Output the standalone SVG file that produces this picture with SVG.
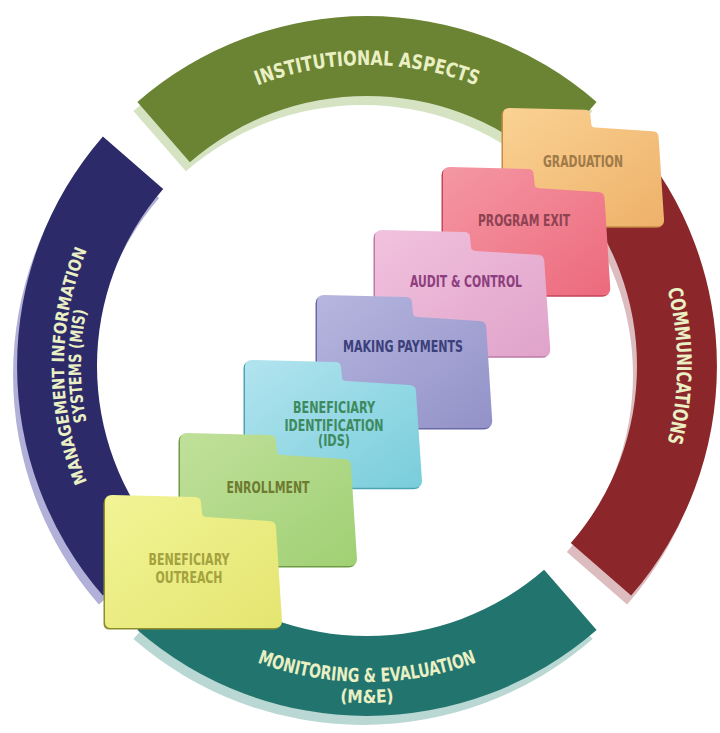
<svg xmlns="http://www.w3.org/2000/svg" xmlns:xlink="http://www.w3.org/1999/xlink" width="720" height="733" viewBox="0 0 720 733">
<style>
.bt{font-family:"DejaVu Sans Condensed","DejaVu Sans",sans-serif;font-weight:bold;fill:#eaf0c4;text-anchor:middle}
.ft{font-family:"DejaVu Sans Condensed","DejaVu Sans",sans-serif;font-weight:bold;font-size:16px;text-anchor:middle}
</style>
<defs>
<path id="pTop" d="M106.3,215.5 A301,301 0 0 1 627.7,215.5"/>
<path id="pRight" d="M522,97.5 A310,310 0 0 1 522,634.5"/>
<path id="pBot1" d="M93.3,524 A316,316 0 0 0 640.7,524"/>
<path id="pBot2" d="M75.2,534.5 A337,337 0 0 0 658.8,534.5"/>
<path id="pLeft1" d="M215.5,628.4 A303,303 0 0 1 215.5,103.6"/>
<path id="pLeft2" d="M224,613.7 A286,286 0 0 1 224,118.3"/>
<path id="folder" d="M0,7 Q0,0 7,0 L90,2 Q96,2 96,8 L97,18 Q97,22 102,22 L164,26 Q171,26 171,33 L177,126 Q177,133 170,133 L6,133 Q0,133 0,127 Z"/>
<linearGradient id="gGrad" x1="0" y1="0" x2="1" y2="1"><stop offset="0" stop-color="#fad293"/><stop offset="1" stop-color="#eeb16a"/></linearGradient>
<linearGradient id="gExit" x1="0" y1="0" x2="1" y2="1"><stop offset="0" stop-color="#f597a4"/><stop offset="1" stop-color="#ec6a7c"/></linearGradient>
<linearGradient id="gAudit" x1="0" y1="0" x2="1" y2="1"><stop offset="0" stop-color="#f1c2de"/><stop offset="1" stop-color="#e0a3ca"/></linearGradient>
<linearGradient id="gPay" x1="0" y1="0" x2="1" y2="1"><stop offset="0" stop-color="#b6b6df"/><stop offset="1" stop-color="#9392c8"/></linearGradient>
<linearGradient id="gIds" x1="0" y1="0" x2="1" y2="1"><stop offset="0" stop-color="#b2e4ef"/><stop offset="1" stop-color="#79cddb"/></linearGradient>
<linearGradient id="gEnr" x1="0" y1="0" x2="1" y2="1"><stop offset="0" stop-color="#c0e09a"/><stop offset="1" stop-color="#a0d074"/></linearGradient>
<linearGradient id="gOut" x1="0" y1="0" x2="1" y2="1"><stop offset="0" stop-color="#f2f496"/><stop offset="1" stop-color="#e4e570"/></linearGradient>
</defs>
<rect width="720" height="733" fill="#ffffff"/>

<g id="band-institutional">
<path d="M137.4,101.9 A350,350 0 0 1 596.6,101.9 L544.1,162.2 A270,270 0 0 0 189.9,162.2 Z" fill="#d5e3c2" transform="translate(-4,9)"/>
<path d="M137.4,101.9 A350,350 0 0 1 596.6,101.9 L544.1,162.2 A270,270 0 0 0 189.9,162.2 Z" fill="#6a8434"/>
<text class="bt" font-size="20"><textPath href="#pTop" xlink:href="#pTop" startOffset="50%" textLength="224" lengthAdjust="spacingAndGlyphs">INSTITUTIONAL ASPECTS</textPath></text>
</g>

<g id="band-communications">
<path d="M631.1,136.4 A350,350 0 0 1 631.1,595.6 L570.8,543.1 A270,270 0 0 0 570.8,188.9 Z" fill="#dcbcbf" transform="translate(-4,9)"/>
<path d="M631.1,136.4 A350,350 0 0 1 631.1,595.6 L570.8,543.1 A270,270 0 0 0 570.8,188.9 Z" fill="#8b262a"/>
<text class="bt" font-size="20"><textPath href="#pRight" xlink:href="#pRight" startOffset="50%" textLength="155" lengthAdjust="spacingAndGlyphs">COMMUNICATIONS</textPath></text>
</g>

<g id="band-monitoring">
<path d="M596.6,630.1 A350,350 0 0 1 137.4,630.1 L189.9,569.8 A270,270 0 0 0 544.1,569.8 Z" fill="#b9d7d3" transform="translate(-4,9)"/>
<path d="M596.6,630.1 A350,350 0 0 1 137.4,630.1 L189.9,569.8 A270,270 0 0 0 544.1,569.8 Z" fill="#22756e"/>
<text class="bt" font-size="19"><textPath href="#pBot1" xlink:href="#pBot1" startOffset="50%" textLength="224" lengthAdjust="spacingAndGlyphs">MONITORING &amp; EVALUATION</textPath></text>
<text class="bt" font-size="18"><textPath href="#pBot2" xlink:href="#pBot2" startOffset="50%" textLength="54" lengthAdjust="spacingAndGlyphs">(M&amp;E)</textPath></text>
</g>

<g id="band-mis">
<path d="M102.9,595.6 A350,350 0 0 1 102.9,136.4 L163.2,188.9 A270,270 0 0 0 163.2,543.1 Z" fill="#b1b0d8" transform="translate(-4,9)"/>
<path d="M102.9,595.6 A350,350 0 0 1 102.9,136.4 L163.2,188.9 A270,270 0 0 0 163.2,543.1 Z" fill="#2d2a69"/>
<text class="bt" font-size="17"><textPath href="#pLeft1" xlink:href="#pLeft1" startOffset="50%" textLength="238" lengthAdjust="spacingAndGlyphs">MANAGEMENT INFORMATION</textPath></text>
<text class="bt" font-size="17"><textPath href="#pLeft2" xlink:href="#pLeft2" startOffset="50%" textLength="112" lengthAdjust="spacingAndGlyphs">SYSTEMS (MIS)</textPath></text>
</g>

<g id="folder-graduation">
<use href="#folder" xlink:href="#folder" transform="translate(501.5,109.5) scale(0.91,0.89)" fill="#c68a44"/>
<use href="#folder" xlink:href="#folder" transform="translate(503,108) scale(0.91,0.89)" fill="url(#gGrad)"/>
<text class="ft" x="583" y="167" fill="#a07a48" textLength="80" lengthAdjust="spacingAndGlyphs">GRADUATION</text>
</g>

<g id="folder-program-exit">
<use href="#folder" xlink:href="#folder" transform="translate(441.5,168.5) scale(0.945,0.965)" fill="#c64458"/>
<use href="#folder" xlink:href="#folder" transform="translate(443,167) scale(0.945,0.965)" fill="url(#gExit)"/>
<text class="ft" x="524" y="226" fill="#8e4252" textLength="92" lengthAdjust="spacingAndGlyphs">PROGRAM EXIT</text>
</g>

<g id="folder-audit">
<use href="#folder" xlink:href="#folder" transform="translate(373.5,231.5) scale(0.99,0.95)" fill="#bd78a6"/>
<use href="#folder" xlink:href="#folder" transform="translate(375,230) scale(0.99,0.95)" fill="url(#gAudit)"/>
<text class="ft" x="466" y="287" fill="#8d3e7e" textLength="112" lengthAdjust="spacingAndGlyphs">AUDIT &amp; CONTROL</text>
</g>

<g id="folder-payments">
<use href="#folder" xlink:href="#folder" transform="translate(315.5,296.5) scale(0.99,1)" fill="#6a68a6"/>
<use href="#folder" xlink:href="#folder" transform="translate(317,295) scale(0.99,1)" fill="url(#gPay)"/>
<text class="ft" x="403" y="352" fill="#3b3f7a" textLength="120" lengthAdjust="spacingAndGlyphs">MAKING PAYMENTS</text>
</g>

<g id="folder-identification">
<use href="#folder" xlink:href="#folder" transform="translate(243.5,361.5) scale(1,0.96)" fill="#4aa4b6"/>
<use href="#folder" xlink:href="#folder" transform="translate(245,360) scale(1,0.96)" fill="url(#gIds)"/>
<text class="ft" x="334" y="413" fill="#3d8a5e" font-size="15" textLength="82" lengthAdjust="spacingAndGlyphs">BENEFICIARY</text>
<text class="ft" x="334" y="430.5" fill="#3d8a5e" font-size="15" textLength="99" lengthAdjust="spacingAndGlyphs">IDENTIFICATION</text>
<text class="ft" x="334" y="446" fill="#3d8a5e" font-size="15" textLength="32" lengthAdjust="spacingAndGlyphs">(IDS)</text>
</g>

<g id="folder-enrollment">
<use href="#folder" xlink:href="#folder" transform="translate(178.5,434.5)" fill="#6e9c44"/>
<use href="#folder" xlink:href="#folder" transform="translate(180,433)" fill="url(#gEnr)"/>
<text class="ft" x="268" y="493" fill="#6d7a30" textLength="83" lengthAdjust="spacingAndGlyphs">ENROLLMENT</text>
</g>

<g id="folder-outreach">
<use href="#folder" xlink:href="#folder" transform="translate(103.5,496.5)" fill="#8e8c2c"/>
<use href="#folder" xlink:href="#folder" transform="translate(105,495)" fill="url(#gOut)"/>
<text class="ft" x="189" y="565" fill="#a3a23e" textLength="81" lengthAdjust="spacingAndGlyphs">BENEFICIARY</text>
<text class="ft" x="189" y="583" fill="#a3a23e" textLength="67" lengthAdjust="spacingAndGlyphs">OUTREACH</text>
</g>
</svg>
